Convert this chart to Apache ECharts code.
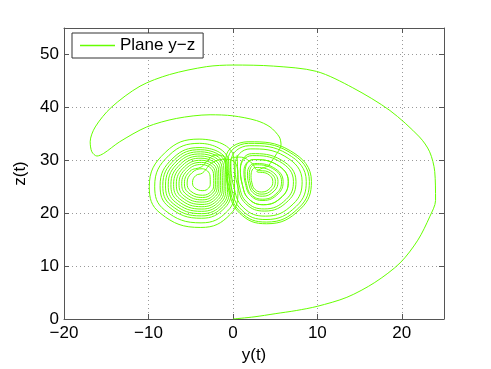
<!DOCTYPE html>
<html>
<head>
<meta charset="utf-8">
<script src="https://cdn.jsdelivr.net/npm/echarts@6/dist/echarts.min.js"></script>
<style>
  html, body { margin: 0; padding: 0; background: #fff; }
  #chart { width: 491px; height: 369px; }
</style>
</head>
<body>
<div id="chart"></div>
<script>
  // values, [y, z]
  var outerPath = [[0,0],[2.5,0.4],[5,1.0],[7.5,1.6],[10,2.4],[13.5,4.1],[16.8,6.9],[19.8,10.6],[21.9,14.9],[23.3,19.3],[24.0,22.4],[23.9,27.9],[23.3,31.6],[22.1,34.4],[18.6,39.4],[14.2,43.7],[9.9,46.8],[4.8,47.8],[0,48.0],[-3.1,47.7],[-7.5,46.2],[-11.0,44.0],[-14.4,40.0],[-16.3,36.3],[-16.9,33.5],[-16.7,31.6],[-16.1,30.8],[-15.3,31.3],[-13.4,33.5],[-10.2,36.3],[-6.7,37.9],[-2.7,38.6],[0,38.4],[2.8,37.5],[4.4,36.3],[5.5,34.4],[5.7,32.9],[5.0,30.8],[4.2,28.9]];

  var rightPass1 = [
    [[2.85,27.88],[4.1,27.45],[4.73,26],[4.4,24.7],[3.4,24.0],[2.6,24.5],[2.25,25.75],[2.15,27.13]],
    [[2.71,28.63],[4.46,28.03],[5.34,26],[4.88,24.18],[3.48,23.2],[2.36,23.9],[1.87,25.65],[1.73,27.58]],
    [[2.57,29.38],[4.82,28.61],[5.95,26],[5.36,23.66],[3.56,22.4],[2.12,23.3],[1.49,25.55],[1.31,28.03]],
    [[2.43,30.13],[5.18,29.19],[6.56,26],[5.84,23.14],[3.64,21.6],[1.88,22.7],[1.11,25.45],[0.89,28.48]],
    [[2.29,30.88],[5.54,29.77],[7.17,26],[6.32,22.62],[3.72,20.8],[1.64,22.1],[0.73,25.35],[0.47,28.93]]
  ];
  var bridge1 = [[-0.8,30.2],[-2.4,29.6]];

  var leftPass1 = [
    [[-3.6,27.6],[-4.4,27.1],[-4.78,25.8],[-4.52,24.8],[-3.56,24.26],[-2.86,24.76],[-2.68,25.7],[-2.7,27.0]],
    [[-3.65,28.4],[-4.85,27.65],[-5.42,25.7],[-5.03,24.2],[-3.59,23.39],[-2.54,24.14],[-2.27,25.55],[-2.3,27.5]],
    [[-3.7,29.2],[-5.3,28.2],[-6.06,25.6],[-5.54,23.6],[-3.62,22.52],[-2.22,23.52],[-1.86,25.4],[-1.9,28.0]],
    [[-3.75,30.0],[-5.75,28.75],[-6.7,25.5],[-6.05,23.0],[-3.65,21.65],[-1.9,22.9],[-1.45,25.25],[-1.5,28.5]],
    [[-3.8,30.8],[-6.2,29.3],[-7.34,25.4],[-6.56,22.4],[-3.68,20.78],[-1.58,22.28],[-1.04,25.1],[-1.1,29.0]],
    [[-3.85,31.6],[-6.65,29.85],[-7.98,25.3],[-7.07,21.8],[-3.71,19.91],[-1.26,21.66],[-0.63,24.95],[-0.7,29.5]],
    [[-3.9,32.4],[-7.1,30.4],[-8.62,25.2],[-7.58,21.2],[-3.74,19.04],[-0.94,21.04],[-0.22,24.8],[-0.3,30.0]]
  ];
  var bridge2 = [[0.8,30.6],[2.3,29.4]];

  var rightPass2 = [
    [[2.78,28.25],[4.28,27.74],[5.03,26],[4.64,24.44],[3.44,23.6],[2.48,24.2],[2.06,25.7],[1.94,27.35]],
    [[2.61,29.15],[4.71,28.44],[5.76,26],[5.22,23.82],[3.54,22.64],[2.19,23.48],[1.6,25.58],[1.44,27.89]],
    [[2.43,30.13],[5.18,29.19],[6.56,26],[5.84,23.14],[3.64,21.6],[1.88,22.7],[1.11,25.45],[0.89,28.48]],
    [[2.22,31.25],[5.72,30.06],[7.47,26],[6.56,22.36],[3.76,20.4],[1.52,21.8],[0.54,25.3],[0.26,29.15]],
    [[2.05,32.15],[6.15,30.76],[8.2,26],[7.14,21.74],[3.86,19.44],[1.23,21.08],[0.08,25.18],[-0.24,29.69]],
    [[1.94,32.75],[6.44,31.22],[8.69,26],[7.52,21.32],[3.92,18.8],[1.04,20.6],[-0.22,25.1],[-0.58,30.05]],
    [[1.86,33.2],[6.66,31.57],[9.06,26],[7.81,21.01],[3.97,18.32],[0.9,20.24],[-0.45,25.04],[-0.83,30.32]],
    [[1.8,33.5],[6.8,31.8],[9.3,26.0],[8.0,20.8],[4.0,18.0],[0.8,20.0],[-0.6,25.0],[-1.0,30.5]]
  ];
  var bridge3 = [[-2.0,31.0],[-3.0,30.0]];

  var leftPass2 = [
    [[-3.68,28.8],[-5.08,27.93],[-5.74,25.65],[-5.29,23.9],[-3.61,22.96],[-2.38,23.83],[-2.07,25.48],[-2.1,27.75]],
    [[-3.73,29.6],[-5.53,28.48],[-6.38,25.55],[-5.8,23.3],[-3.64,22.09],[-2.06,23.21],[-1.66,25.33],[-1.7,28.25]],
    [[-3.78,30.4],[-5.98,29.03],[-7.02,25.45],[-6.31,22.7],[-3.67,21.22],[-1.74,22.59],[-1.25,25.18],[-1.3,28.75]],
    [[-3.83,31.2],[-6.43,29.58],[-7.66,25.35],[-6.82,22.1],[-3.7,20.35],[-1.42,21.97],[-0.84,25.03],[-0.9,29.25]],
    [[-3.88,32.0],[-6.88,30.13],[-8.3,25.25],[-7.33,21.5],[-3.73,19.48],[-1.1,21.35],[-0.43,24.88],[-0.5,29.75]],
    [[-3.95,33.2],[-7.55,30.95],[-9.26,25.1],[-8.09,20.6],[-3.77,18.17],[-0.62,20.42],[0.19,24.65],[0.1,30.5]],
    [[-4.0,34.0],[-8.0,31.5],[-9.9,25.0],[-8.6,20.0],[-3.8,17.3],[-0.3,19.8],[0.6,24.5],[0.5,31.0]]
  ];

  var xTicks = [-20, -10, 0, 10, 20];
  var yTicks = [0, 10, 20, 30, 40, 50];
  var seriesName = 'Plane y\u2212z';

  var flat = function (loops) { return [].concat.apply([], loops); };
  var attractor = [].concat(
    [outerPath[outerPath.length - 1]],
    flat(rightPass1), bridge1, flat(leftPass1), bridge2,
    flat(rightPass2), bridge3, flat(leftPass2)
  );

  var axisColor = '#555';
  var lineColor = '#66ff00';
  var font = 'Liberation Sans, Arial, sans-serif';
  var minus = function (v) { return String(v).replace('-', '\u2212'); };

  var boxAxis = {
    axisLine: { show: true, onZero: false, lineStyle: { color: axisColor } },
    axisTick: { show: true, inside: true, length: 5, lineStyle: { color: axisColor } },
    axisLabel: { show: false },
    splitLine: { show: false }
  };

  var chart = echarts.init(document.getElementById('chart'));
  chart.setOption({
    animation: false,
    grid: { left: 64, right: 47, top: 28, bottom: 45 },
    legend: {
      left: 72, top: 33,
      data: [{ name: seriesName, icon: 'rect' }],
      itemWidth: 35, itemHeight: 1.5,
      padding: [4, 8, 4, 8],
      backgroundColor: '#fff',
      borderColor: '#333', borderWidth: 1, borderRadius: 0,
      textStyle: { fontFamily: font, fontSize: 17, color: '#000' }
    },
    xAxis: [Object.assign({}, boxAxis, {
      type: 'value', min: -20, max: 25, interval: 10,
      name: 'y(t)', nameLocation: 'middle', nameGap: 28,
      nameTextStyle: { fontFamily: font, fontSize: 17, color: '#000' },
      axisLabel: {
        fontFamily: font, fontSize: 17, color: '#000', margin: 6,
        formatter: function (v) { return xTicks.indexOf(v) >= 0 ? minus(v) : ''; }
      },
      splitLine: { show: true, lineStyle: { color: '#999', type: [1, 3] } }
    }), Object.assign({}, boxAxis, {
      type: 'value', position: 'top', min: -20, max: 25, interval: 10
    })],
    yAxis: [Object.assign({}, boxAxis, {
      type: 'value', min: 0, max: 55, interval: 10,
      name: 'z(t)', nameLocation: 'middle', nameGap: 34,
      nameTextStyle: { fontFamily: font, fontSize: 17, color: '#000' },
      axisLabel: {
        fontFamily: font, fontSize: 17, color: '#000', margin: 5,
        formatter: function (v) { return yTicks.indexOf(v) >= 0 ? minus(v) : ''; }
      },
      splitLine: { show: true, lineStyle: { color: '#999', type: [1, 3] } }
    }), Object.assign({}, boxAxis, {
      type: 'value', position: 'right', min: 0, max: 55, interval: 10
    })],
    series: [{
      name: seriesName, type: 'line', data: outerPath,
      showSymbol: false, smooth: 0.3,
      lineStyle: { color: lineColor, width: 1 }, itemStyle: { color: lineColor }
    }, {
      name: seriesName, type: 'line', data: attractor,
      showSymbol: false, smooth: 0.45,
      lineStyle: { color: lineColor, width: 1 }, itemStyle: { color: lineColor }
    }]
  });
</script>
</body>
</html>
